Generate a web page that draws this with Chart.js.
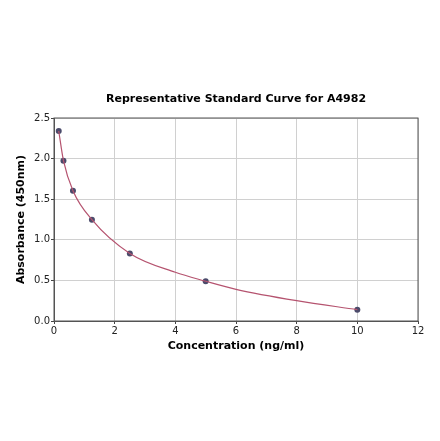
<!DOCTYPE html>
<html>
<head>
<meta charset="utf-8">
<script src="https://cdn.jsdelivr.net/npm/chart.js@4/dist/chart.umd.min.js"></script>
<style>
  html, body { margin: 0; padding: 0; background: #fff; }
  canvas { display: block; }
</style>
</head>
<body>
<canvas id="grafico" width="440" height="441"></canvas>
<script>
// pontos padrão
const concentracoes = [0.156, 0.312, 0.625, 1.25, 2.5, 5, 10];
const absorbancias = [2.34, 1.975, 1.605, 1.248, 0.832, 0.49, 0.14];
const curvaX = [0.156, 0.312, 0.625, 1.25, 2.5, 4, 5, 6, 8, 10];
const curvaY = [2.34, 1.975, 1.605, 1.248, 0.832, 0.60, 0.49, 0.39, 0.25, 0.14];
const ticksX = [0, 2, 4, 6, 8, 10, 12];
const ticksY = [0.0, 0.5, 1.0, 1.5, 2.0, 2.5];
const titulo = 'Representative Standard Curve for A4982';

const pontos = concentracoes.map((x, i) => ({ x: x, y: absorbancias[i] }));
const curva = curvaX.map((x, i) => ({ x: x, y: curvaY[i] }));

// moldura e título centrado sobre a área do gráfico
const moldura = {
  id: 'moldura',
  afterDraw(chart) {
    const { ctx, chartArea: a } = chart;
    ctx.save();
    ctx.strokeStyle = '#555';
    ctx.lineWidth = 1;
    ctx.strokeRect(a.left, a.top, a.right - a.left, a.bottom - a.top);
    ctx.fillStyle = '#000';
    ctx.font = 'bold 11px "DejaVu Sans"';
    ctx.textAlign = 'center';
    ctx.textBaseline = 'middle';
    ctx.fillText(titulo, (a.left + a.right) / 2, 99);
    ctx.restore();
  }
};

const ctx = document.getElementById('grafico').getContext('2d');

new Chart(ctx, {
  type: 'scatter',
  data: {
    datasets: [
      {
        data: curva,
        showLine: true,
        cubicInterpolationMode: 'monotone',
        borderColor: '#b5536f',
        borderWidth: 1.2,
        pointRadius: 0,
        fill: false
      },
      {
        data: pontos,
        showLine: false,
        pointRadius: 3,
        pointBackgroundColor: '#4b4b6b',
        pointBorderColor: '#4b4b6b',
        pointBorderWidth: 0
      }
    ]
  },
  options: {
    responsive: false,
    animation: false,
    layout: { padding: { left: 0, right: 22, top: 118, bottom: 88 } },
    plugins: {
      legend: { display: false },
      tooltip: { enabled: false },
      title: { display: false }
    },
    scales: {
      x: {
        type: 'linear',
        min: 0,
        max: 12,
        afterBuildTicks: scale => { scale.ticks = ticksX.map(v => ({ value: v })); },
        afterFit: scale => { scale.height = 32; },
        ticks: {
          color: '#222',
          font: { family: 'DejaVu Sans', size: 10 },
          padding: 1,
          maxRotation: 0
        },
        grid: { color: '#d0d0d0', tickColor: '#444', tickLength: 3 },
        border: { color: '#555' },
        title: {
          display: true,
          text: 'Concentration (ng/ml)',
          color: '#000',
          font: { family: 'DejaVu Sans', size: 11, weight: 'bold' },
          padding: { top: 0, bottom: 0 }
        }
      },
      y: {
        type: 'linear',
        min: 0,
        max: 2.5,
        afterBuildTicks: scale => { scale.ticks = ticksY.map(v => ({ value: v })); },
        afterFit: scale => { scale.width = 54; },
        ticks: {
          color: '#222',
          font: { family: 'DejaVu Sans', size: 10 },
          padding: 1,
          callback: v => v.toFixed(1)
        },
        grid: { color: '#d0d0d0', tickColor: '#444', tickLength: 3 },
        border: { color: '#555' },
        title: {
          display: true,
          text: 'Absorbance (450nm)',
          color: '#000',
          font: { family: 'DejaVu Sans', size: 11, weight: 'bold' },
          padding: { top: 15, bottom: 0 }
        }
      }
    }
  },
  plugins: [moldura]
});
</script>
</body>
</html>
